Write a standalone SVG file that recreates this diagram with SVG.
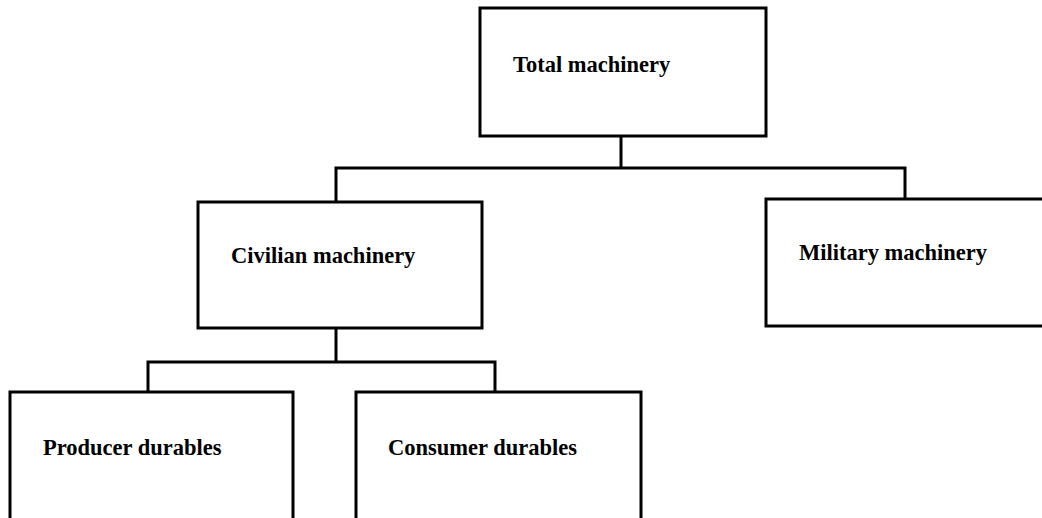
<svg xmlns="http://www.w3.org/2000/svg" width="1042" height="518" viewBox="0 0 1042 518">
<style>
.box{fill:#fff;stroke:#000;stroke-width:3}
.conn{fill:none;stroke:#000;stroke-width:3}
.lbl{font-family:"Liberation Serif","Times New Roman",serif;font-weight:bold;font-size:22.5px;fill:#000}
</style>
<rect width="1042" height="518" fill="#fff"/>
<g id="connectors">
<path class="conn" d="M621,136 V168 M336,202 V168 H905 V199"/>
<path class="conn" d="M336,328 V362 M148,392 V362 H495 V392"/>
</g>
<g id="total">
<rect class="box" x="480" y="8" width="286" height="128"/>
<text class="lbl" x="513" y="72">Total machinery</text>
</g>
<g id="civilian">
<rect class="box" x="198" y="202" width="284" height="126"/>
<text class="lbl" x="231" y="263">Civilian machinery</text>
</g>
<g id="military">
<rect class="box" x="766" y="199" width="290" height="127"/>
<text class="lbl" x="799" y="260">Military machinery</text>
</g>
<g id="producer">
<rect class="box" x="10" y="392" width="283" height="140"/>
<text class="lbl" x="43" y="455">Producer durables</text>
</g>
<g id="consumer">
<rect class="box" x="356" y="392" width="285" height="140"/>
<text class="lbl" x="388" y="455">Consumer durables</text>
</g>
</svg>
